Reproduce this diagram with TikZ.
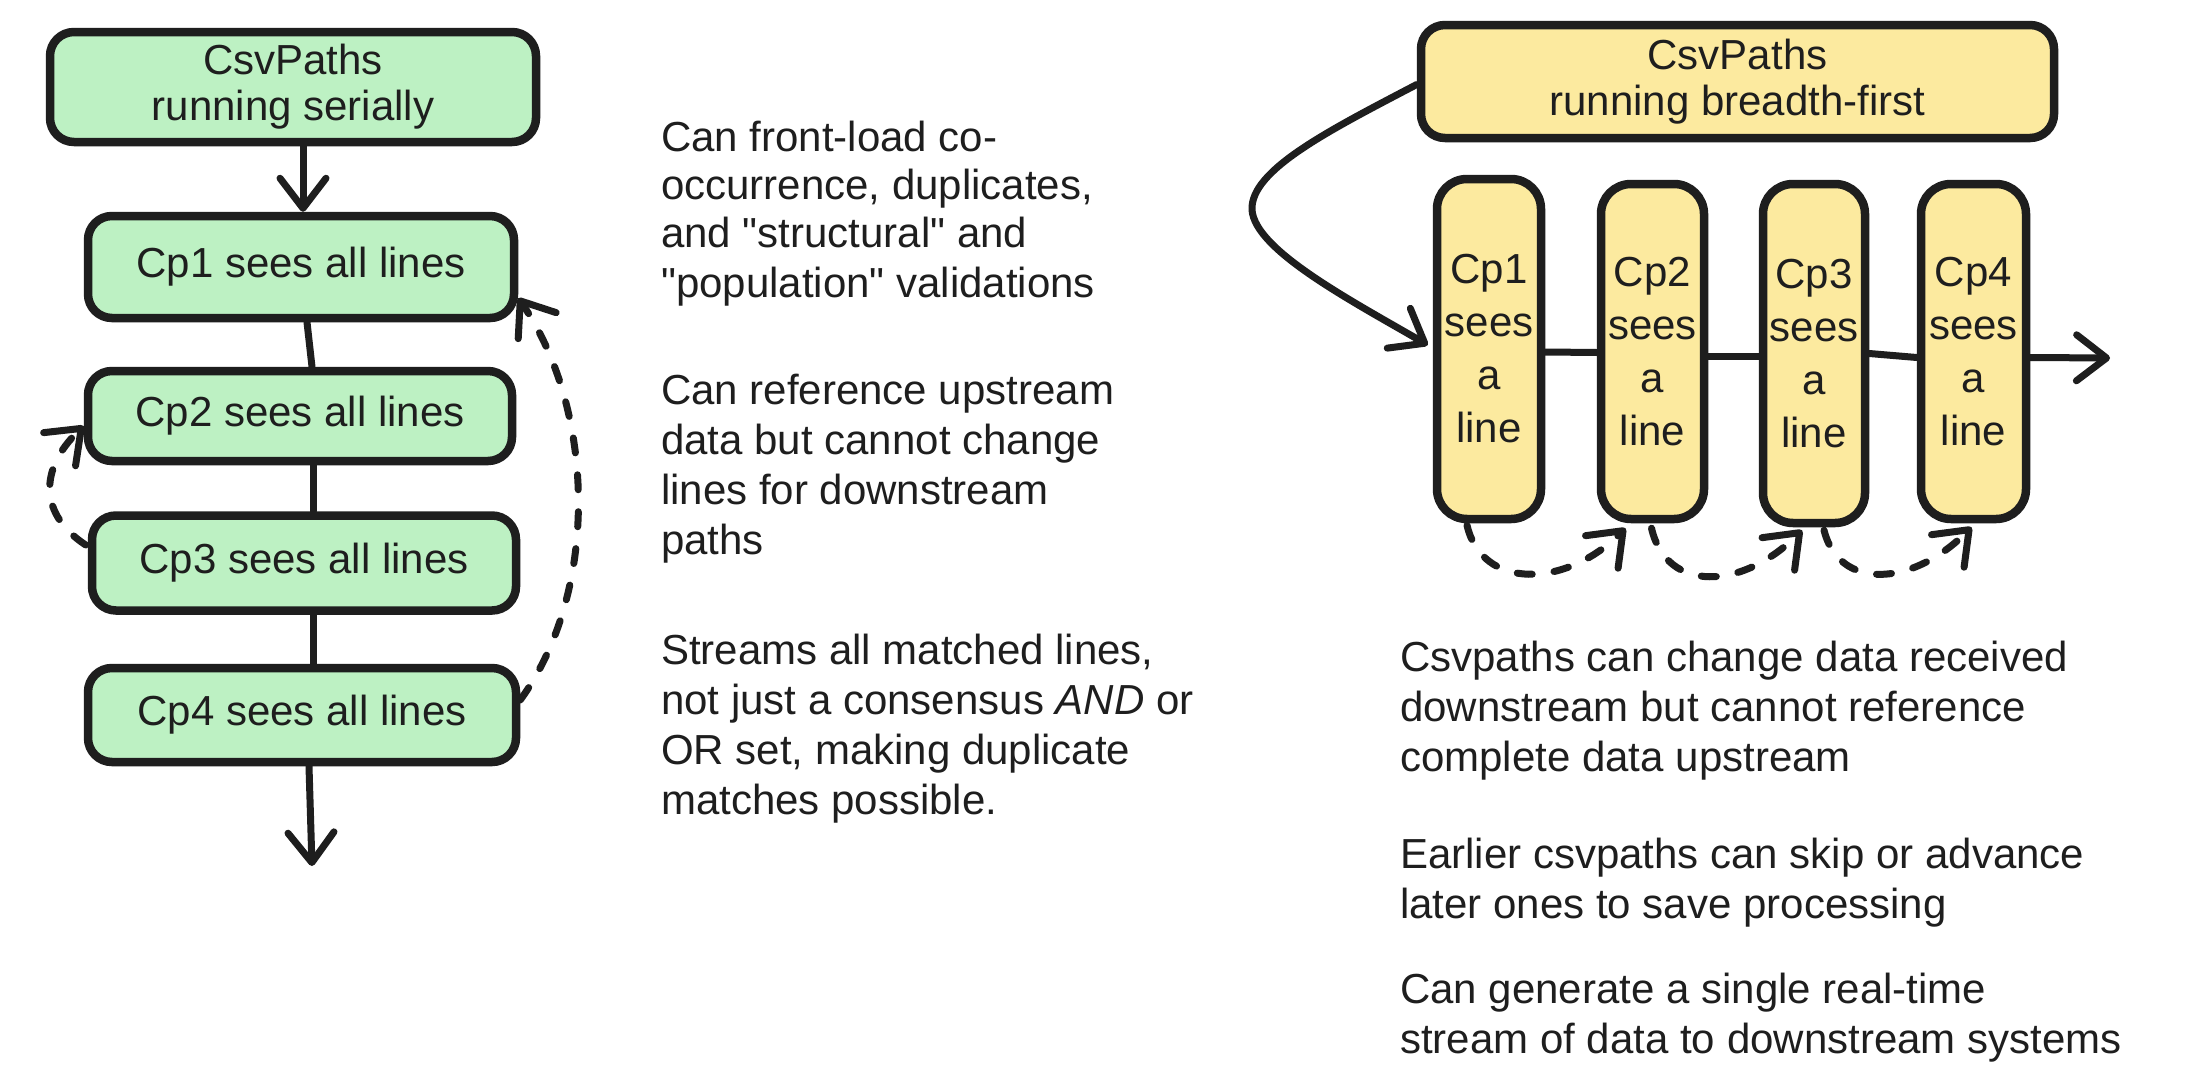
\documentclass[tikz,border=0pt]{standalone}
\usepackage{fontspec}
\newfontfamily\hand{Liberation Sans}
\usetikzlibrary{arrows.meta}
\definecolor{ink}{HTML}{1E1E1E}
\definecolor{gfill}{HTML}{BDF1C3}
\definecolor{yfill}{HTML}{FCEA9F}
\begin{document}
\begin{tikzpicture}[x=1pt,y=-1pt,
  box/.style={draw=ink, line width=8.5pt, rounded corners=24pt, inner sep=0pt, align=center, text=ink, font=\hand\fontsize{42}{46}\selectfont},
  gbox/.style={box, fill=gfill},
  ybox/.style={box, fill=yfill},
  tall/.style={ybox, rounded corners=30pt, font=\hand\fontsize{42}{53}\selectfont},
  link/.style={draw=ink, line width=7pt, line cap=round},
  arr/.style={link, -{Straight Barb[length=30pt,width=46pt,round]}},
  dsh/.style={arr, dash pattern=on 15pt off 22pt},
  txt/.style={anchor=base west, inner sep=0pt, text=ink, font=\hand\fontsize{42}{50}\selectfont}]
\fill[white] (0,0) rectangle (2198,1084);
\useasboundingbox (0,0) rectangle (2198,1084);

% ---------- left: serial ----------
\node[gbox, minimum width=486pt, minimum height=110pt] (lh) at (293,87) {CsvPaths\\running serially};
\node[gbox, minimum width=426pt, minimum height=102pt] (c1) at (301,267) {Cp1 sees all lines};
\node[gbox, minimum width=424pt, minimum height=90pt]  (c2) at (300,416) {Cp2 sees all lines};
\node[gbox, minimum width=424pt, minimum height=95pt]  (c3) at (304,563) {Cp3 sees all lines};
\node[gbox, minimum width=428pt, minimum height=94pt]  (c4) at (302,715) {Cp4 sees all lines};
\coordinate (lend) at (312,866);

\draw[arr] ([xshift=10pt]lh.south) -- ([xshift=2pt]c1.north);
\draw[link] ([xshift=6pt]c1.south) -- ([xshift=12pt]c2.north);
\draw[link] ([xshift=13pt]c2.south) -- ([xshift=9pt]c3.north);
\draw[link] ([xshift=9pt]c3.south) -- ([xshift=11pt]c4.north);
\draw[arr] ([xshift=7pt]c4.south) -- (lend);
\draw[dsh] ([yshift=15pt]c4.east) .. controls (600,590) and (595,410) .. ([yshift=-31pt]c1.east);
\draw[dsh] ([xshift=-2pt,yshift=18pt]c3.west) .. controls (40,515) and (38,470) .. ([yshift=-10pt]c2.west);

% ---------- middle text ----------
\node[txt] (m1) at (661,151) {Can front-load co-};
\node[txt] (m2) at (661,199) {occurrence, duplicates,};
\node[txt] (m3) at (661,247) {and "structural" and};
\node[txt] (m4) at (661,297) {"population" validations};
\node[txt] (m5) at (661,404) {Can reference upstream};
\node[txt] (m6) at (661,454) {data but cannot change};
\node[txt] (m7) at (661,504) {lines for downstream};
\node[txt] (m8) at (661,554) {paths};
\node[txt] (m9) at (661,664) {Streams all matched lines,};
\node[txt] (m10) at (661,714) {not just a consensus {\itshape AND} or};
\node[txt] (m11) at (661,764) {OR set, making duplicate};
\node[txt] (m12) at (661,814) {matches possible.};

% ---------- right: breadth-first ----------
\node[ybox, minimum width=633pt, minimum height=113pt] (rh) at (1737.5,81.5) {CsvPaths\\running breadth-first};
\node[tall, minimum width=104pt, minimum height=340pt] (r1) at (1489,349) {Cp1\\sees\\a\\line};
\node[tall, minimum width=103pt, minimum height=335pt] (r2) at (1652.5,351.5) {Cp2\\sees\\a\\line};
\node[tall, minimum width=102pt, minimum height=339pt] (r3) at (1814,353.5) {Cp3\\sees\\a\\line};
\node[tall, minimum width=105pt, minimum height=335pt] (r4) at (1973.5,351.5) {Cp4\\sees\\a\\line};
\coordinate (rend) at (2110,358);

\draw[arr] ([yshift=-3pt]rh.west) .. controls (1330,130) and (1250,170) .. (1252,210)
  .. controls (1255,250) and (1350,300) .. ([xshift=-5pt,yshift=4pt]r1.west);
\draw[link] ([yshift=-3pt]r1.east) -- ([yshift=-1pt]r2.west);
\draw[link] ([yshift=-5pt]r2.east) -- ([yshift=-3pt]r3.west);
\draw[link] ([yshift=0pt]r3.east) -- ([yshift=-6pt]r4.west);
\draw[arr] ([yshift=-6pt]r4.east) -- (rend);

\draw[dsh] ([xshift=-22pt,yshift=-2pt]r1.south) .. controls +(15,65) and +(-60,60) .. ([xshift=-27pt,yshift=-5pt]r2.south);
\draw[dsh] ([xshift=-1pt,yshift=-5pt]r2.south) .. controls +(15,65) and +(-60,60) .. ([xshift=-12pt,yshift=-3pt]r3.south);
\draw[dsh] ([xshift=10pt,yshift=-3pt]r3.south) .. controls +(15,60) and +(-60,60) .. ([xshift=-2pt,yshift=-4pt]r4.south);

% ---------- right text ----------
\node[txt] (n1) at (1400,671) {Csvpaths can change data received};
\node[txt] (n2) at (1400,721) {downstream but cannot reference};
\node[txt] (n3) at (1400,771) {complete data upstream};
\node[txt] (n4) at (1400,868) {Earlier csvpaths can skip or advance};
\node[txt] (n5) at (1400,918) {later ones to save processing};
\node[txt] (n6) at (1400,1003) {Can generate a single real-time};
\node[txt] (n7) at (1400,1053) {stream of data to downstream systems};
\end{tikzpicture}
\end{document}
